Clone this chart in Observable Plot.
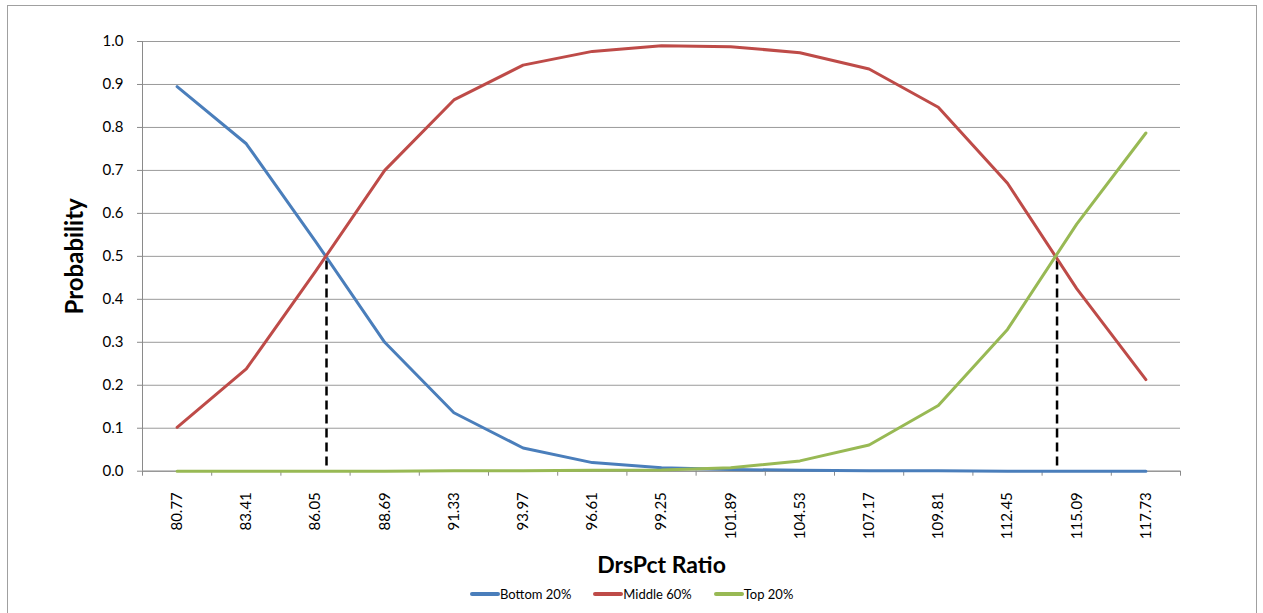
<!DOCTYPE html>
<html>
<head>
<meta charset="utf-8">
<script src="https://cdn.jsdelivr.net/npm/d3@7"></script>
<script src="https://cdn.jsdelivr.net/npm/@observablehq/plot@0.6"></script>
<style>
  body { margin: 0; background: #fff; font-family: Lato, "Open Sans", sans-serif; }
  #wrap { position: relative; width: 1263px; height: 613px; overflow: hidden; background: #fff; }
  #frame { position: absolute; left: 7px; top: 5px; width: 1250px; height: 640px; border: 1px solid #a0a0a0; box-sizing: border-box; }
  #chart { position: absolute; left: 0; top: 0; }
  #legend { position: absolute; left: 470px; top: 586px; display: flex; align-items: center; gap: 22px; font-size: 13px; color: #000; }
  #legend .item { display: flex; align-items: center; }
  #legend .sw { display: inline-block; width: 30px; height: 4px; border-radius: 2px; }
</style>
</head>
<body>
<div id="wrap">
  <div id="frame"></div>
  <div id="chart"></div>
  <div id="legend"></div>
</div>
<script>
// DrsPct ratio categories (evenly spaced by 2.64)
const ratios = [80.77, 83.41, 86.05, 88.69, 91.33, 93.97, 96.61, 99.25, 101.89, 104.53, 107.17, 109.81, 112.45, 115.09, 117.73];

// Probability of each group at each ratio
const bottom20 = [0.895, 0.762, 0.535, 0.300, 0.136, 0.054, 0.020, 0.008, 0.004, 0.002, 0.001, 0.001, 0.000, 0.000, 0.000];
const middle60 = [0.102, 0.238, 0.465, 0.700, 0.864, 0.945, 0.977, 0.990, 0.988, 0.974, 0.936, 0.847, 0.670, 0.425, 0.213];
const top20    = [0.000, 0.000, 0.000, 0.000, 0.001, 0.001, 0.002, 0.003, 0.008, 0.024, 0.061, 0.153, 0.330, 0.575, 0.787];

const seriesNames = ["Bottom 20%", "Middle 60%", "Top 20%"];
const seriesColors = ["#4a7ebb", "#be4b48", "#98b954"];

// Ratios where the probability curves cross 0.5
const cutoffs = [86.47, 114.34];

const yTicks = [0, 0.1, 0.2, 0.3, 0.4, 0.5, 0.6, 0.7, 0.8, 0.9, 1.0];

const seriesValues = [bottom20, middle60, top20];
const rows = seriesNames.flatMap((name, s) =>
  ratios.map((r, i) => ({ratio: r, p: seriesValues[s][i], series: name}))
);

// Category boundaries (half a step either side of each ratio)
const step = ratios[1] - ratios[0];
const bounds = d3.range(ratios.length + 1).map(i => ratios[0] - step / 2 + i * step);

const H = 582;
const chart = Plot.plot({
  width: 1263,
  height: H,
  marginLeft: 142,
  marginRight: 83,
  marginTop: 41,
  marginBottom: H - 470.7,
  x: {domain: [bounds[0], bounds[bounds.length - 1]]},
  y: {domain: [0, 1]},
  color: {domain: seriesNames, range: seriesColors},
  style: {fontFamily: "Lato, 'Open Sans', sans-serif", fontSize: "15px", color: "#000", background: "transparent", overflow: "visible"},
  marks: [
    Plot.gridY(yTicks, {stroke: "#9a9a9a", strokeOpacity: 1}),
    Plot.ruleX([bounds[0]], {stroke: "#8a8a8a"}),
    Plot.ruleY([0], {stroke: "#8a8a8a"}),
    Plot.axisY(yTicks, {tickSize: 5, tickPadding: 14, tickFormat: d3.format(".1f"), stroke: "#8a8a8a", fill: "#000", fontSize: 15, label: null}),
    Plot.axisX(bounds, {tickSize: 5, tickFormat: () => "", stroke: "#8a8a8a", label: null}),
    Plot.axisX(ratios, {tickSize: 0, tickRotate: -90, tickPadding: 21, tickFormat: d => d.toFixed(2), fill: "#000", fontSize: 15, label: null}),
    Plot.ruleX(cutoffs, {y1: 0.012, y2: 0.49, stroke: "#000", strokeWidth: 2.5, strokeDasharray: "9,5"}),
    Plot.line(rows, {x: "ratio", y: "p", z: "series", stroke: "series", strokeWidth: 3, strokeLinejoin: "round", strokeLinecap: "round"}),
    Plot.text(["Probability"], {frameAnchor: "left", textAnchor: "middle", lineAnchor: "middle", dx: -67, rotate: -90, fontSize: 24, fontWeight: "bold", fill: "#000"}),
    Plot.text(["DrsPct Ratio"], {frameAnchor: "bottom", textAnchor: "middle", lineAnchor: "middle", dy: 94, fontSize: 23, fontWeight: "bold", fill: "#000"})
  ]
});
document.getElementById("chart").appendChild(chart);

// Legend below the chart
const legend = document.getElementById("legend");
seriesNames.forEach((name, i) => {
  const item = document.createElement("div");
  item.className = "item";
  const sw = document.createElement("span");
  sw.className = "sw";
  sw.style.background = seriesColors[i];
  const label = document.createElement("span");
  label.textContent = name;
  item.appendChild(sw);
  item.appendChild(label);
  legend.appendChild(item);
});
</script>
</body>
</html>
